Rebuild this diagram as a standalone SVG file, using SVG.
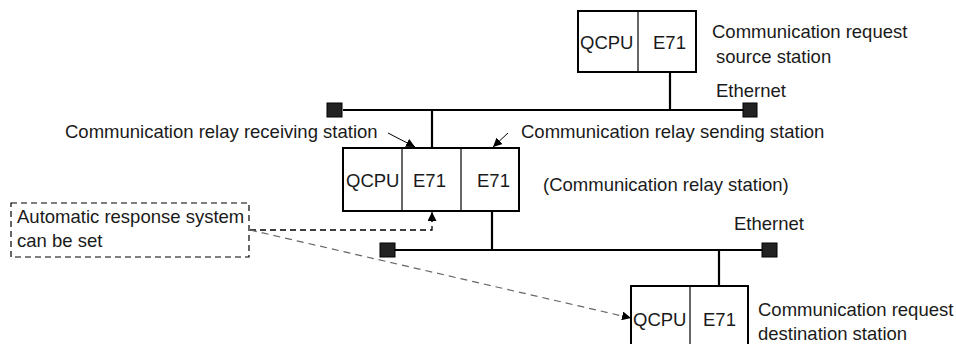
<svg xmlns="http://www.w3.org/2000/svg" width="956" height="344" viewBox="0 0 956 344">
<defs>
<style>
text{font-family:"Liberation Sans",Arial,sans-serif;font-size:18.5px;fill:#1a1a1a}
.box{fill:#fff;stroke:#000;stroke-width:2}
.div{stroke:#000;stroke-width:1.2}
.bus{stroke:#000;stroke-width:2.2;fill:none}
.term{fill:#222;stroke:#000;stroke-width:1}
.thin{stroke:#000;stroke-width:1;fill:none}
.dash{stroke:#000;stroke-width:1.3;stroke-dasharray:6 4;fill:none}
.dashg{stroke:#666;stroke-width:1.2;stroke-dasharray:7 5;fill:none}
</style>
<marker id="ah" viewBox="0 0 10 10" refX="10" refY="5" markerWidth="9" markerHeight="9" markerUnits="userSpaceOnUse" orient="auto">
<path d="M0,0 L10,5 L0,10 Z" fill="#000"/>
</marker>
</defs>

<g id="connectors">
<line class="bus" x1="343" y1="110" x2="743" y2="110"/>
<line class="bus" x1="395" y1="250" x2="762" y2="250"/>
<line class="bus" x1="670" y1="72" x2="670" y2="110"/>
<line class="bus" x1="432" y1="110" x2="432" y2="148"/>
<line class="bus" x1="492" y1="211" x2="492" y2="250"/>
<line class="bus" x1="719" y1="250" x2="719" y2="286"/>
<line class="thin" x1="388" y1="133" x2="415" y2="147" marker-end="url(#ah)"/>
<line class="thin" x1="508" y1="133" x2="493" y2="147" marker-end="url(#ah)"/>
<polyline class="dash" points="250,230 432,230 432,212"/>
<line class="thin" x1="432" y1="222" x2="432" y2="212" marker-end="url(#ah)"/>
<line class="dashg" x1="250" y1="230" x2="631" y2="318" marker-end="url(#ah)"/>
</g>

<g id="terminators">
<rect class="term" x="327" y="103" width="15" height="14"/>
<rect class="term" x="743" y="103" width="14" height="14"/>
<rect class="term" x="380" y="243" width="15" height="14"/>
<rect class="term" x="762" y="243" width="15" height="14"/>
</g>

<g id="source-station">
<rect class="box" x="578" y="11" width="118" height="61"/>
<line class="div" x1="638" y1="11" x2="638" y2="72"/>
<text x="580" y="49">QCPU</text>
<text x="653" y="49">E71</text>
<text x="712" y="38">Communication request</text>
<text x="716" y="63">source station</text>
</g>

<g id="relay-station">
<rect class="box" x="343" y="148" width="176" height="63"/>
<line class="div" x1="402" y1="148" x2="402" y2="211"/>
<line class="div" x1="461" y1="148" x2="461" y2="211"/>
<text x="346" y="187">QCPU</text>
<text x="413" y="187">E71</text>
<text x="477" y="187">E71</text>
<text x="543" y="191">(Communication relay station)</text>
</g>

<g id="destination-station">
<rect class="box" x="631" y="286" width="117" height="70"/>
<line class="div" x1="690" y1="286" x2="690" y2="346"/>
<text x="633" y="326">QCPU</text>
<text x="703" y="326">E71</text>
<text x="758" y="316">Communication request</text>
<text x="758" y="340">destination station</text>
</g>

<g id="labels">
<text x="65" y="138">Communication relay receiving station</text>
<text x="521" y="138">Communication relay sending station</text>
<text x="716" y="97">Ethernet</text>
<text x="734" y="230">Ethernet</text>
</g>

<g id="note">
<rect x="11" y="203" width="238" height="54" fill="#fff" stroke="#000" stroke-width="1.2" stroke-dasharray="6 4"/>
<text x="17" y="223">Automatic response system</text>
<text x="17" y="247">can be set</text>
</g>
</svg>
